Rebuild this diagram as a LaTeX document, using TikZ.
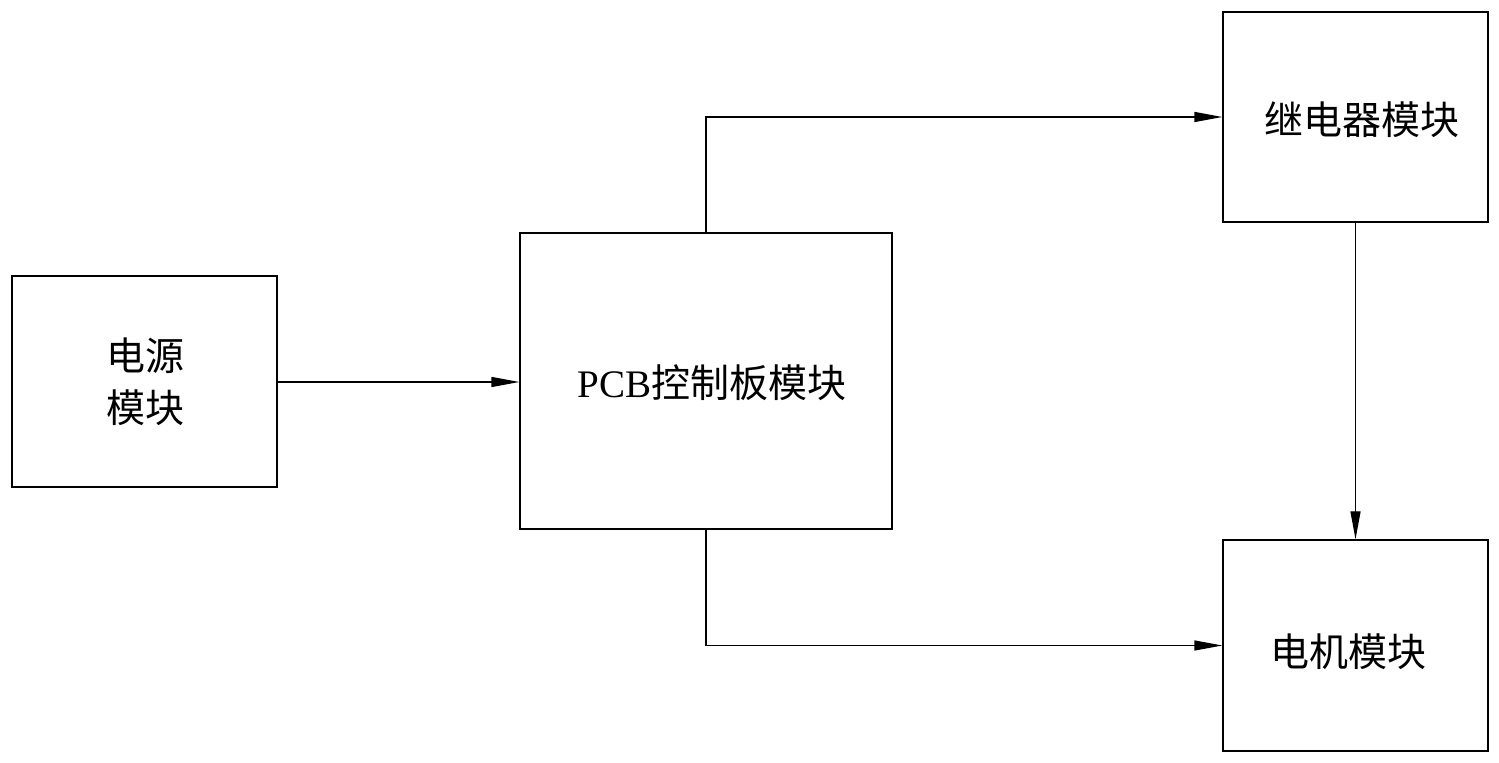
\documentclass[tikz,border=0pt]{standalone}
\usepackage{fontspec}
\setmainfont{Liberation Serif}
\newfontfamily\cjk{Noto Sans CJK SC}
\usetikzlibrary{arrows.meta}
\begin{document}
\begin{tikzpicture}[x=0.5pt,y=-0.5pt,
  blk/.style={draw,line width=0.65pt,inner sep=0pt},
  txt/.style={inner sep=0pt,font=\fontsize{19.5pt}{26pt}\selectfont,align=center},
  conn/.style={line width=0.65pt,-{Triangle[length=14pt,width=5pt]}}]
\useasboundingbox (0,0) rectangle (1499,763);
\node[blk,minimum width=132.5pt,minimum height=105.5pt] (pwr) at (144.5,381.5) {};
\node[blk,minimum width=186pt,minimum height=148pt] (pcb) at (706,381) {};
\node[blk,minimum width=132.5pt,minimum height=105pt] (rel) at (1355.5,117) {};
\node[blk,minimum width=132.5pt,minimum height=105.5pt] (mot) at (1355.5,645.5) {};
\node[txt] (pwrt) at (145,382) {\cjk 电源\\\cjk 模块};
\node[txt] (pcbt) at (712,383) {PCB{\cjk 控制板模块}};
\node[txt] (relt) at (1362,120) {\cjk 继电器模块};
\node[txt] (mott) at (1348,652) {\cjk 电机模块};
\coordinate (pin) at (pcb.west |- 0,382);
\draw[conn] (pwr.east |- pin) -- (pin);
\draw[conn] (pcb.north) |- (rel.west);
\draw[conn] (pcb.south) |- (mot.west);
\draw[conn] (rel.south) -- (mot.north);
\end{tikzpicture}
\end{document}
